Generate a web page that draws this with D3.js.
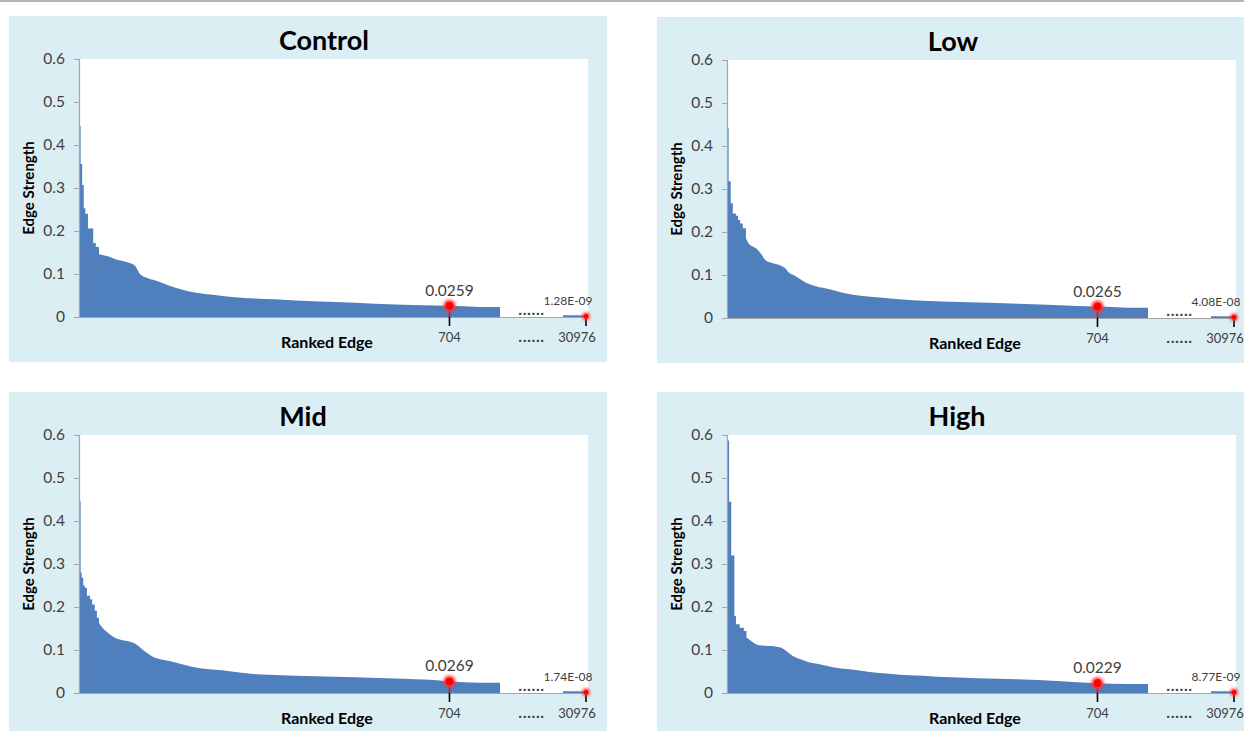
<!DOCTYPE html>
<html><head><meta charset="utf-8">
<script src="https://cdn.jsdelivr.net/npm/d3@7"></script>
<style>
body{margin:0;background:#fff}
svg{display:block}
text{font-family:Lato,"Open Sans",sans-serif}
</style>
</head><body>
<svg id="c" width="1244" height="731"></svg>
<script>
// ---------------- DATA ----------------
const categories = ["Control", "Low", "Mid", "High"];
const yTickValues = [0, 0.1, 0.2, 0.3, 0.4, 0.5, 0.6];
const xTickRanks = [704, 30976];
const xTickLabels = ["704", "30976"];
const markerRank = 704;
const markerValues = [0.0259, 0.0265, 0.0269, 0.0229];
const lastEdgeLabels = ["1.28E-09", "4.08E-08", "1.74E-08", "8.77E-09"];
const shownRanks = 800;      // ranks drawn before the break
const tailStart = 30950;     // first rank drawn after the break
const totalEdges = 30976;
const tailShownValue = 0.004; // visual height of the last (near-zero) edges

const controlRank     = [0, 3, 6, 9, 12, 17, 27, 32, 38, 55, 68, 81, 93, 106, 116, 131, 150, 169, 195, 220, 258, 296, 334, 372, 420, 525, 600, 704, 760];
const controlStrength = [0.444, 0.356, 0.307, 0.253, 0.240, 0.206, 0.172, 0.163, 0.146, 0.141, 0.135, 0.131, 0.127, 0.120, 0.100, 0.090, 0.083, 0.074, 0.064, 0.057, 0.051, 0.046, 0.043, 0.041, 0.038, 0.033, 0.029, 0.0259, 0.023];

const lowRank     = [0, 3, 7, 11, 17, 21, 25, 30, 36, 42, 49, 57, 66, 72, 80, 89, 110, 118, 129, 150, 169, 195, 220, 258, 296, 334, 372, 442, 552, 666, 704, 760];
const lowStrength = [0.442, 0.318, 0.267, 0.243, 0.238, 0.228, 0.220, 0.209, 0.185, 0.172, 0.166, 0.160, 0.147, 0.136, 0.130, 0.127, 0.116, 0.105, 0.098, 0.082, 0.074, 0.067, 0.059, 0.051, 0.047, 0.043, 0.040, 0.037, 0.033, 0.028, 0.0265, 0.024];

const midRank     = [0, 3, 5, 8, 11, 15, 21, 25, 30, 34, 38, 43, 49, 56, 65, 81, 97, 109, 119, 128, 141, 157, 176, 201, 233, 271, 309, 347, 372, 450, 600, 675, 704, 760];
const midStrength = [0.447, 0.280, 0.268, 0.250, 0.245, 0.226, 0.218, 0.206, 0.191, 0.175, 0.162, 0.154, 0.146, 0.139, 0.131, 0.123, 0.119, 0.113, 0.103, 0.094, 0.084, 0.078, 0.073, 0.065, 0.057, 0.053, 0.047, 0.043, 0.042, 0.039, 0.034, 0.030, 0.0269, 0.024];

const highRank     = [0, 4, 8, 14, 17, 24, 32, 37, 46, 56, 62, 92, 103, 112, 125, 141, 154, 176, 201, 233, 271, 309, 347, 372, 400, 552, 628, 704, 760];
const highStrength = [0.587, 0.445, 0.320, 0.179, 0.160, 0.152, 0.144, 0.129, 0.121, 0.113, 0.111, 0.108, 0.105, 0.098, 0.086, 0.078, 0.072, 0.067, 0.060, 0.055, 0.049, 0.045, 0.041, 0.040, 0.038, 0.032, 0.028, 0.0229, 0.021];

const seriesRanks = [controlRank, lowRank, midRank, highRank];
const seriesStrength = [controlStrength, lowStrength, midStrength, highStrength];

// ---------------- LAYOUT ----------------
const svg = d3.select("#c");
const W = 1244, H = 731;
const panelPos = [{x: 0, y: 0}, {x: 648, y: 1}, {x: 0, y: 376}, {x: 648, y: 376}];
const titleX = [324, 305, 303, 309]; // relative to panel origin
const plotLeft = 79, plotTop = 59, plotBottom = 317, plotRight = 588;
const stepRankLimit = 40; // drawing: steep head drawn as steps, rest as smooth curve

const defs = svg.append("defs");
const f = defs.append("filter").attr("id", "glow").attr("x", "-100%").attr("y", "-100%").attr("width", "300%").attr("height", "300%");
f.append("feGaussianBlur").attr("stdDeviation", 1.5);

// top rule
svg.append("line").attr("x1", 0).attr("x2", W).attr("y1", 1).attr("y2", 1)
  .attr("stroke", "#9a9a9a").attr("stroke-width", 1.5);

const x = d3.scaleLinear()
  .domain([0, shownRanks, tailStart, totalEdges])
  .range([plotLeft, plotLeft + 421, plotLeft + 484, plotLeft + 507]);
const y = d3.scaleLinear().domain([0, 0.6]).range([plotBottom, plotTop]);

categories.forEach((cat, i) => {
  const g = svg.append("g").attr("transform", `translate(${panelPos[i].x},${panelPos[i].y})`);
  // panel background
  g.append("rect").attr("x", 9).attr("y", 16).attr("width", 598).attr("height", 346)
    .attr("fill", "#dbeef4");
  // plot area
  g.append("rect").attr("x", plotLeft).attr("y", plotTop)
    .attr("width", plotRight - plotLeft).attr("height", plotBottom - plotTop).attr("fill", "#fff");

  // title
  g.append("text").attr("x", titleX[i]).attr("y", 50).attr("text-anchor", "middle")
    .attr("font-size", 27).attr("font-weight", "bold").attr("fill", "#000").text(cat);

  // area: steep head as steps, remainder as a smooth curve, in one path
  const pts = seriesRanks[i].map((r, k) => ({r, v: seriesStrength[i][k]}));
  pts.push({r: shownRanks, v: pts[pts.length - 1].v});
  let split = pts.findIndex(d => d.r >= stepRankLimit) - 1;
  if (split < 1) split = 1;
  const head = pts.slice(0, split + 1);
  const rest = pts.slice(split, pts.length - 1);
  const endPts = pts.slice(pts.length - 2);
  const stepLine = d3.line().curve(d3.curveStepAfter).x(d => x(d.r)).y(d => y(d.v));
  const smoothLine = d3.line().curve(d3.curveMonotoneX).x(d => x(d.r)).y(d => y(d.v));
  const dStr = `M${x(0)},${y(0)}` + stepLine(head).replace(/^M/, "L")
    + smoothLine(rest).replace(/^M/, "L")
    + stepLine(endPts).replace(/^M/, "L")
    + `L${x(shownRanks)},${y(0)}Z`;
  g.append("path").attr("d", dStr).attr("fill", "#4f7fbd");

  // tail bar after the break
  const tailArea = d3.area().curve(d3.curveStepAfter).x(d => x(d.r)).y0(y(0)).y1(d => y(d.v));
  const tail = [{r: tailStart, v: tailShownValue}, {r: totalEdges, v: tailShownValue}];
  g.append("path").datum(tail).attr("d", tailArea).attr("fill", "#4f7fbd");

  // x baseline (through the break)
  g.append("line").attr("x1", plotLeft).attr("x2", x(totalEdges))
    .attr("y1", y(0) + 0.5).attr("y2", y(0) + 0.5).attr("stroke", "#a6a6a6").attr("stroke-width", 1.2);

  // y axis
  const yAxis = d3.axisLeft(y).tickValues(yTickValues).tickSize(5).tickPadding(9)
    .tickFormat(d => d === 0 ? "0" : d3.format(".1f")(d));
  const ya = g.append("g").attr("transform", `translate(${plotLeft},0)`).call(yAxis);
  ya.select(".domain").attr("stroke", "#a6a6a6").attr("stroke-width", 1.2);
  ya.selectAll(".tick line").attr("stroke", "#a6a6a6");
  ya.selectAll(".tick text").attr("font-size", 15.5).attr("fill", "#404040")
    .attr("font-family", "Lato, 'Open Sans', sans-serif");

  // axis titles
  g.append("text").attr("transform", `translate(34,188) rotate(-90)`).attr("text-anchor", "middle")
    .attr("font-size", 15).attr("font-weight", "bold").attr("fill", "#000").text("Edge Strength");
  g.append("text").attr("x", 327).attr("y", 348).attr("text-anchor", "middle")
    .attr("font-size", 16).attr("font-weight", "bold").attr("fill", "#000").text("Ranked Edge");

  // x ticks
  xTickRanks.forEach((r, k) => {
    g.append("line").attr("x1", x(r)).attr("x2", x(r)).attr("y1", y(0)).attr("y2", y(0) + 9)
      .attr("stroke", "#000").attr("stroke-width", 1.6);
    g.append("text").attr("x", x(r) + (k === 1 ? -9 : 0)).attr("y", y(0) + 25).attr("text-anchor", "middle")
      .attr("font-size", 13).attr("fill", "#404040").text(xTickLabels[k]);
  });

  // break dots
  const gapMid = (x(shownRanks) + x(tailStart)) / 2;
  [y(0) - 2, y(0) + 25].forEach(ty => {
    g.append("text").attr("x", gapMid).attr("y", ty).attr("text-anchor", "middle")
      .attr("font-size", 16).attr("font-weight", "bold").attr("fill", "#404040")
      .attr("letter-spacing", 0.6).text("......");
  });

  // marker at 704
  const mx = x(markerRank), my = y(markerValues[i]);
  g.append("line").attr("x1", mx).attr("x2", mx).attr("y1", my).attr("y2", y(0))
    .attr("stroke", "#e01010").attr("stroke-width", 1.6);
  g.append("circle").attr("cx", mx).attr("cy", my).attr("r", 6).attr("fill", "#ff3030").attr("filter", "url(#glow)");
  g.append("circle").attr("cx", mx).attr("cy", my).attr("r", 3.8).attr("fill", "#ff0000");
  g.append("text").attr("x", mx).attr("y", my - 10).attr("text-anchor", "middle")
    .attr("font-size", 15.5).attr("fill", "#404040").text(d3.format(".4f")(markerValues[i]));

  // marker at last edge
  const ex = x(totalEdges), ey = y(tailShownValue) + 1;
  g.append("circle").attr("cx", ex).attr("cy", ey).attr("r", 3.8).attr("fill", "#ff3030").attr("filter", "url(#glow)");
  g.append("circle").attr("cx", ex).attr("cy", ey).attr("r", 2.4).attr("fill", "#ff0000");
  g.append("text").attr("x", ex - 18).attr("y", ey - 11).attr("text-anchor", "middle")
    .attr("font-size", 12).attr("fill", "#404040").text(lastEdgeLabels[i]);
});
</script>
</body></html>
